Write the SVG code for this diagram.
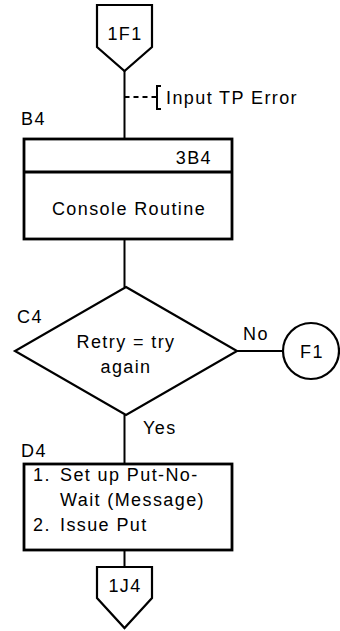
<svg xmlns="http://www.w3.org/2000/svg" width="340" height="631" viewBox="0 0 340 631">
<style>
.ln{fill:none;stroke:#000;stroke-width:2}
.bx{fill:#fff;stroke:#000;stroke-width:2.8}
.sh{fill:#fff;stroke:#000;stroke-width:2.2}
text{font-family:"Liberation Sans",Arial,sans-serif;font-size:18px;fill:#000;letter-spacing:1.4px}
.c{text-anchor:middle}
.e{text-anchor:end}
</style>
<rect width="340" height="631" fill="#fff"/>
<g id="connectors">
<line class="ln" x1="124.5" y1="70" x2="124.5" y2="139"/>
<line class="ln" x1="124.5" y1="97" x2="155" y2="97" stroke-dasharray="5,4"/>
<path class="ln" d="M161,86 H157 V109 H161 M157,97 H153"/>
<line class="ln" x1="124.5" y1="239" x2="124.5" y2="287"/>
<line class="ln" x1="237" y1="351" x2="283" y2="351"/>
<line class="ln" x1="124.5" y1="415" x2="124.5" y2="464"/>
<line class="ln" x1="124.5" y1="550" x2="124.5" y2="567"/>
<text x="243" y="340">No</text>
<text x="143" y="434">Yes</text>
<text x="166" y="104">Input TP Error</text>
</g>
<g id="n1F1">
<path class="sh" d="M97,5 H152 V47 L124.5,71 L97,47 Z"/>
<text class="c" x="125" y="40">1F1</text>
</g>
<g id="B4">
<text x="21" y="125">B4</text>
<rect class="bx" x="24" y="139" width="208" height="100"/>
<line class="bx" x1="24" y1="172" x2="232" y2="172"/>
<text class="e" x="212" y="164">3B4</text>
<text class="c" x="129" y="215">Console Routine</text>
</g>
<g id="C4">
<text x="17" y="323">C4</text>
<path class="sh" d="M126,287 L237,351 L126,415 L15,351 Z"/>
<text class="c" x="126" y="348">Retry = try</text>
<text class="c" x="126" y="373">again</text>
</g>
<g id="F1">
<circle class="sh" cx="311" cy="351" r="28"/>
<text class="c" x="312" y="358">F1</text>
</g>
<g id="D4">
<text x="21" y="457">D4</text>
<rect class="bx" x="24" y="464" width="208" height="86"/>
<text x="33" y="481">1.</text>
<text x="60" y="481">Set up Put-No-</text>
<text x="60" y="506">Wait (Message)</text>
<text x="33" y="531">2.</text>
<text x="60" y="531">Issue Put</text>
</g>
<g id="n1J4">
<path class="sh" d="M97,567 H152 V598 L124.5,628 L97,598 Z"/>
<text class="c" x="125" y="592">1J4</text>
</g>
</svg>
